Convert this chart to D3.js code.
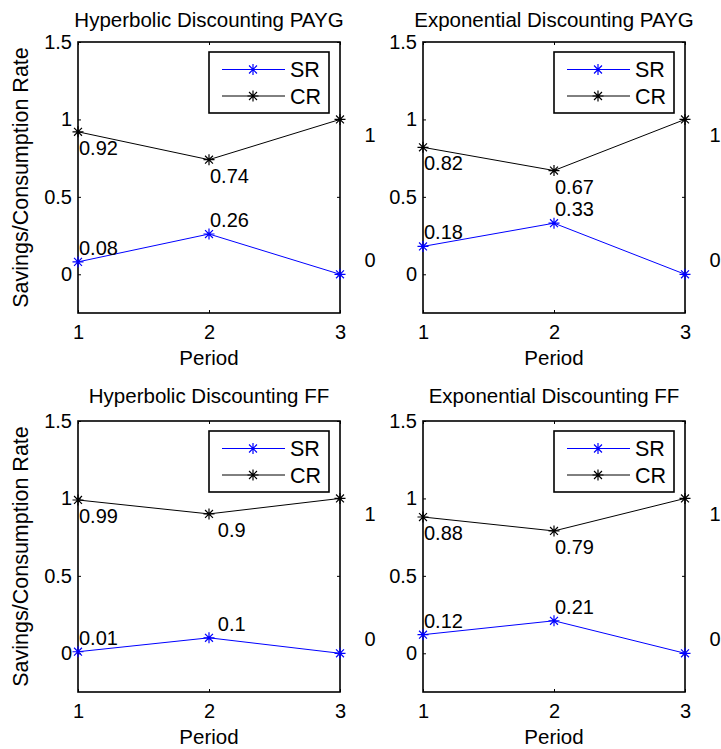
<!DOCTYPE html>
<html>
<head>
<meta charset="utf-8">
<script src="https://cdn.jsdelivr.net/npm/d3@7"></script>
<style>
  body { margin: 0; background: #fff; }
  svg { display: block; font-family: "Liberation Sans", Arial, Helvetica, sans-serif; }
</style>
</head>
<body>
<svg id="svg"></svg>
<script>
const svgWidth = 721;
const svgHeight = 749;

// data
const periods = [1, 2, 3];
const panelTitles = [
  "Hyperbolic Discounting PAYG",
  "Exponential Discounting PAYG",
  "Hyperbolic Discounting FF",
  "Exponential Discounting FF"
];
const srValues = [
  [0.08, 0.26, 0],
  [0.18, 0.33, 0],
  [0.01, 0.1, 0],
  [0.12, 0.21, 0]
];
const crValues = [
  [0.92, 0.74, 1],
  [0.82, 0.67, 1],
  [0.99, 0.9, 1],
  [0.88, 0.79, 1]
];
const seriesNames = ["SR", "CR"];
const seriesColors = ["#0000ff", "#000000"];
const xTicks = [1, 2, 3];
const yTicks = [0, 0.5, 1, 1.5];
const yDomain = [-0.25, 1.5];
const xLabel = "Period";
const yLabel = "Savings/Consumption Rate";

// layout
const cols = [78, 423];
const rows = [42, 421];
const plotW = 262;
const plotH = 271;
const titleBaseline = [27, 403];
const padChar = 7.8; // width of one pad space in the num2str labels

let svg = d3.select("#svg");

function asterisk(r) {
  const d = r * 0.72;
  return `M${-r},0H${r}M0,${-r}V${r}M${-d},${-d}L${d},${d}M${-d},${d}L${d},${-d}`;
}

// num2str on a column vector right-aligns the strings
function labelStrings(vals) {
  const s = vals.map(v => String(v));
  const maxLen = d3.max(s, t => t.length);
  return s.map(t => ({ text: t, pad: maxLen - t.length }));
}

function initializeSVG() {
  svg.attr("width", svgWidth).attr("height", svgHeight);
  svg.selectAll("*").remove();
}

function drawPanel(i) {
  const x0 = cols[i % 2];
  const y0 = rows[Math.floor(i / 2)];
  const left = i % 2 === 0;

  const xScale = d3.scaleLinear().domain([1, 3]).range([0, plotW]);
  const yScale = d3.scaleLinear().domain(yDomain).range([plotH, 0]);

  const g = svg.append("g").attr("transform", `translate(${x0},${y0})`);

  // axes, MATLAB style ticks pointing inward on all sides
  const fmt = d => String(d);
  g.append("g")
    .attr("transform", `translate(0,${plotH})`)
    .call(d3.axisBottom(xScale).tickValues(xTicks).tickSize(-3).tickPadding(11.8).tickFormat(fmt));
  g.append("g")
    .call(d3.axisTop(xScale).tickValues(xTicks).tickSize(-3).tickFormat(""));
  g.append("g")
    .call(d3.axisLeft(yScale).tickValues(yTicks).tickSize(-3).tickPadding(6).tickFormat(fmt));
  g.append("g")
    .attr("transform", `translate(${plotW},0)`)
    .call(d3.axisRight(yScale).tickValues(yTicks).tickSize(-3).tickFormat(""));
  g.selectAll(".domain").remove();
  g.selectAll(".tick line").attr("stroke", "#000").attr("stroke-width", 1);
  g.selectAll(".tick text")
    .attr("fill", "#000")
    .style("font-size", "20px")
    .style("font-family", "'Liberation Sans', Arial, sans-serif");

  g.append("rect")
    .attr("width", plotW)
    .attr("height", plotH)
    .attr("fill", "none")
    .attr("stroke", "#000")
    .attr("stroke-width", 1.6);

  // title and labels
  svg.append("text")
    .attr("x", x0 + plotW / 2)
    .attr("y", titleBaseline[Math.floor(i / 2)])
    .attr("text-anchor", "middle")
    .style("font-size", "20.5px")
    .text(panelTitles[i]);

  g.append("text")
    .attr("x", plotW / 2)
    .attr("y", plotH + 52)
    .attr("text-anchor", "middle")
    .style("font-size", "20.5px")
    .text(xLabel);

  if (left) {
    g.append("text")
      .attr("transform", `translate(${28 - x0},${plotH / 2}) rotate(-90)`)
      .attr("text-anchor", "middle")
      .style("font-size", "21.5px")
      .text(yLabel);
  }

  // series
  const series = [srValues[i], crValues[i]];
  const line = d3.line().x((d, k) => xScale(periods[k])).y(d => yScale(d));

  series.forEach((vals, s) => {
    g.append("path")
      .datum(vals)
      .attr("d", line)
      .attr("fill", "none")
      .attr("stroke", seriesColors[s])
      .attr("stroke-width", 1);

    g.selectAll(null)
      .data(vals)
      .join("path")
      .attr("transform", (d, k) => `translate(${xScale(periods[k])},${yScale(d)})`)
      .attr("d", asterisk(5.5))
      .attr("fill", "none")
      .attr("stroke", seriesColors[s])
      .attr("stroke-width", 1.2);

    const labels = labelStrings(vals);
    g.selectAll(null)
      .data(vals)
      .join("text")
      .attr("x", (d, k) => xScale(periods[k]) + 1 + labels[k].pad * padChar)
      .attr("y", d => yScale(d) + (s === 0 ? -7 : 23))
      .style("font-size", "20px")
      .text((d, k) => labels[k].text);
  });

  // legend
  const lg = g.append("g").attr("transform", "translate(131,10)");
  lg.append("rect")
    .attr("width", 120)
    .attr("height", 61)
    .attr("fill", "#fff")
    .attr("stroke", "#000")
    .attr("stroke-width", 1.6);
  seriesNames.forEach((name, s) => {
    const ly = 17.5 + s * 26.5;
    lg.append("line")
      .attr("x1", 13).attr("x2", 76)
      .attr("y1", ly).attr("y2", ly)
      .attr("stroke", seriesColors[s])
      .attr("stroke-width", 1);
    lg.append("path")
      .attr("transform", `translate(44,${ly})`)
      .attr("d", asterisk(5.5))
      .attr("fill", "none")
      .attr("stroke", seriesColors[s])
      .attr("stroke-width", 1.2);
    lg.append("text")
      .attr("x", 81)
      .attr("y", ly + 7.8)
      .style("font-size", "21.5px")
      .text(name);
  });
}

function initialize() {
  initializeSVG();
  panelTitles.forEach((t, i) => drawPanel(i));
}

initialize();
</script>
</body>
</html>
